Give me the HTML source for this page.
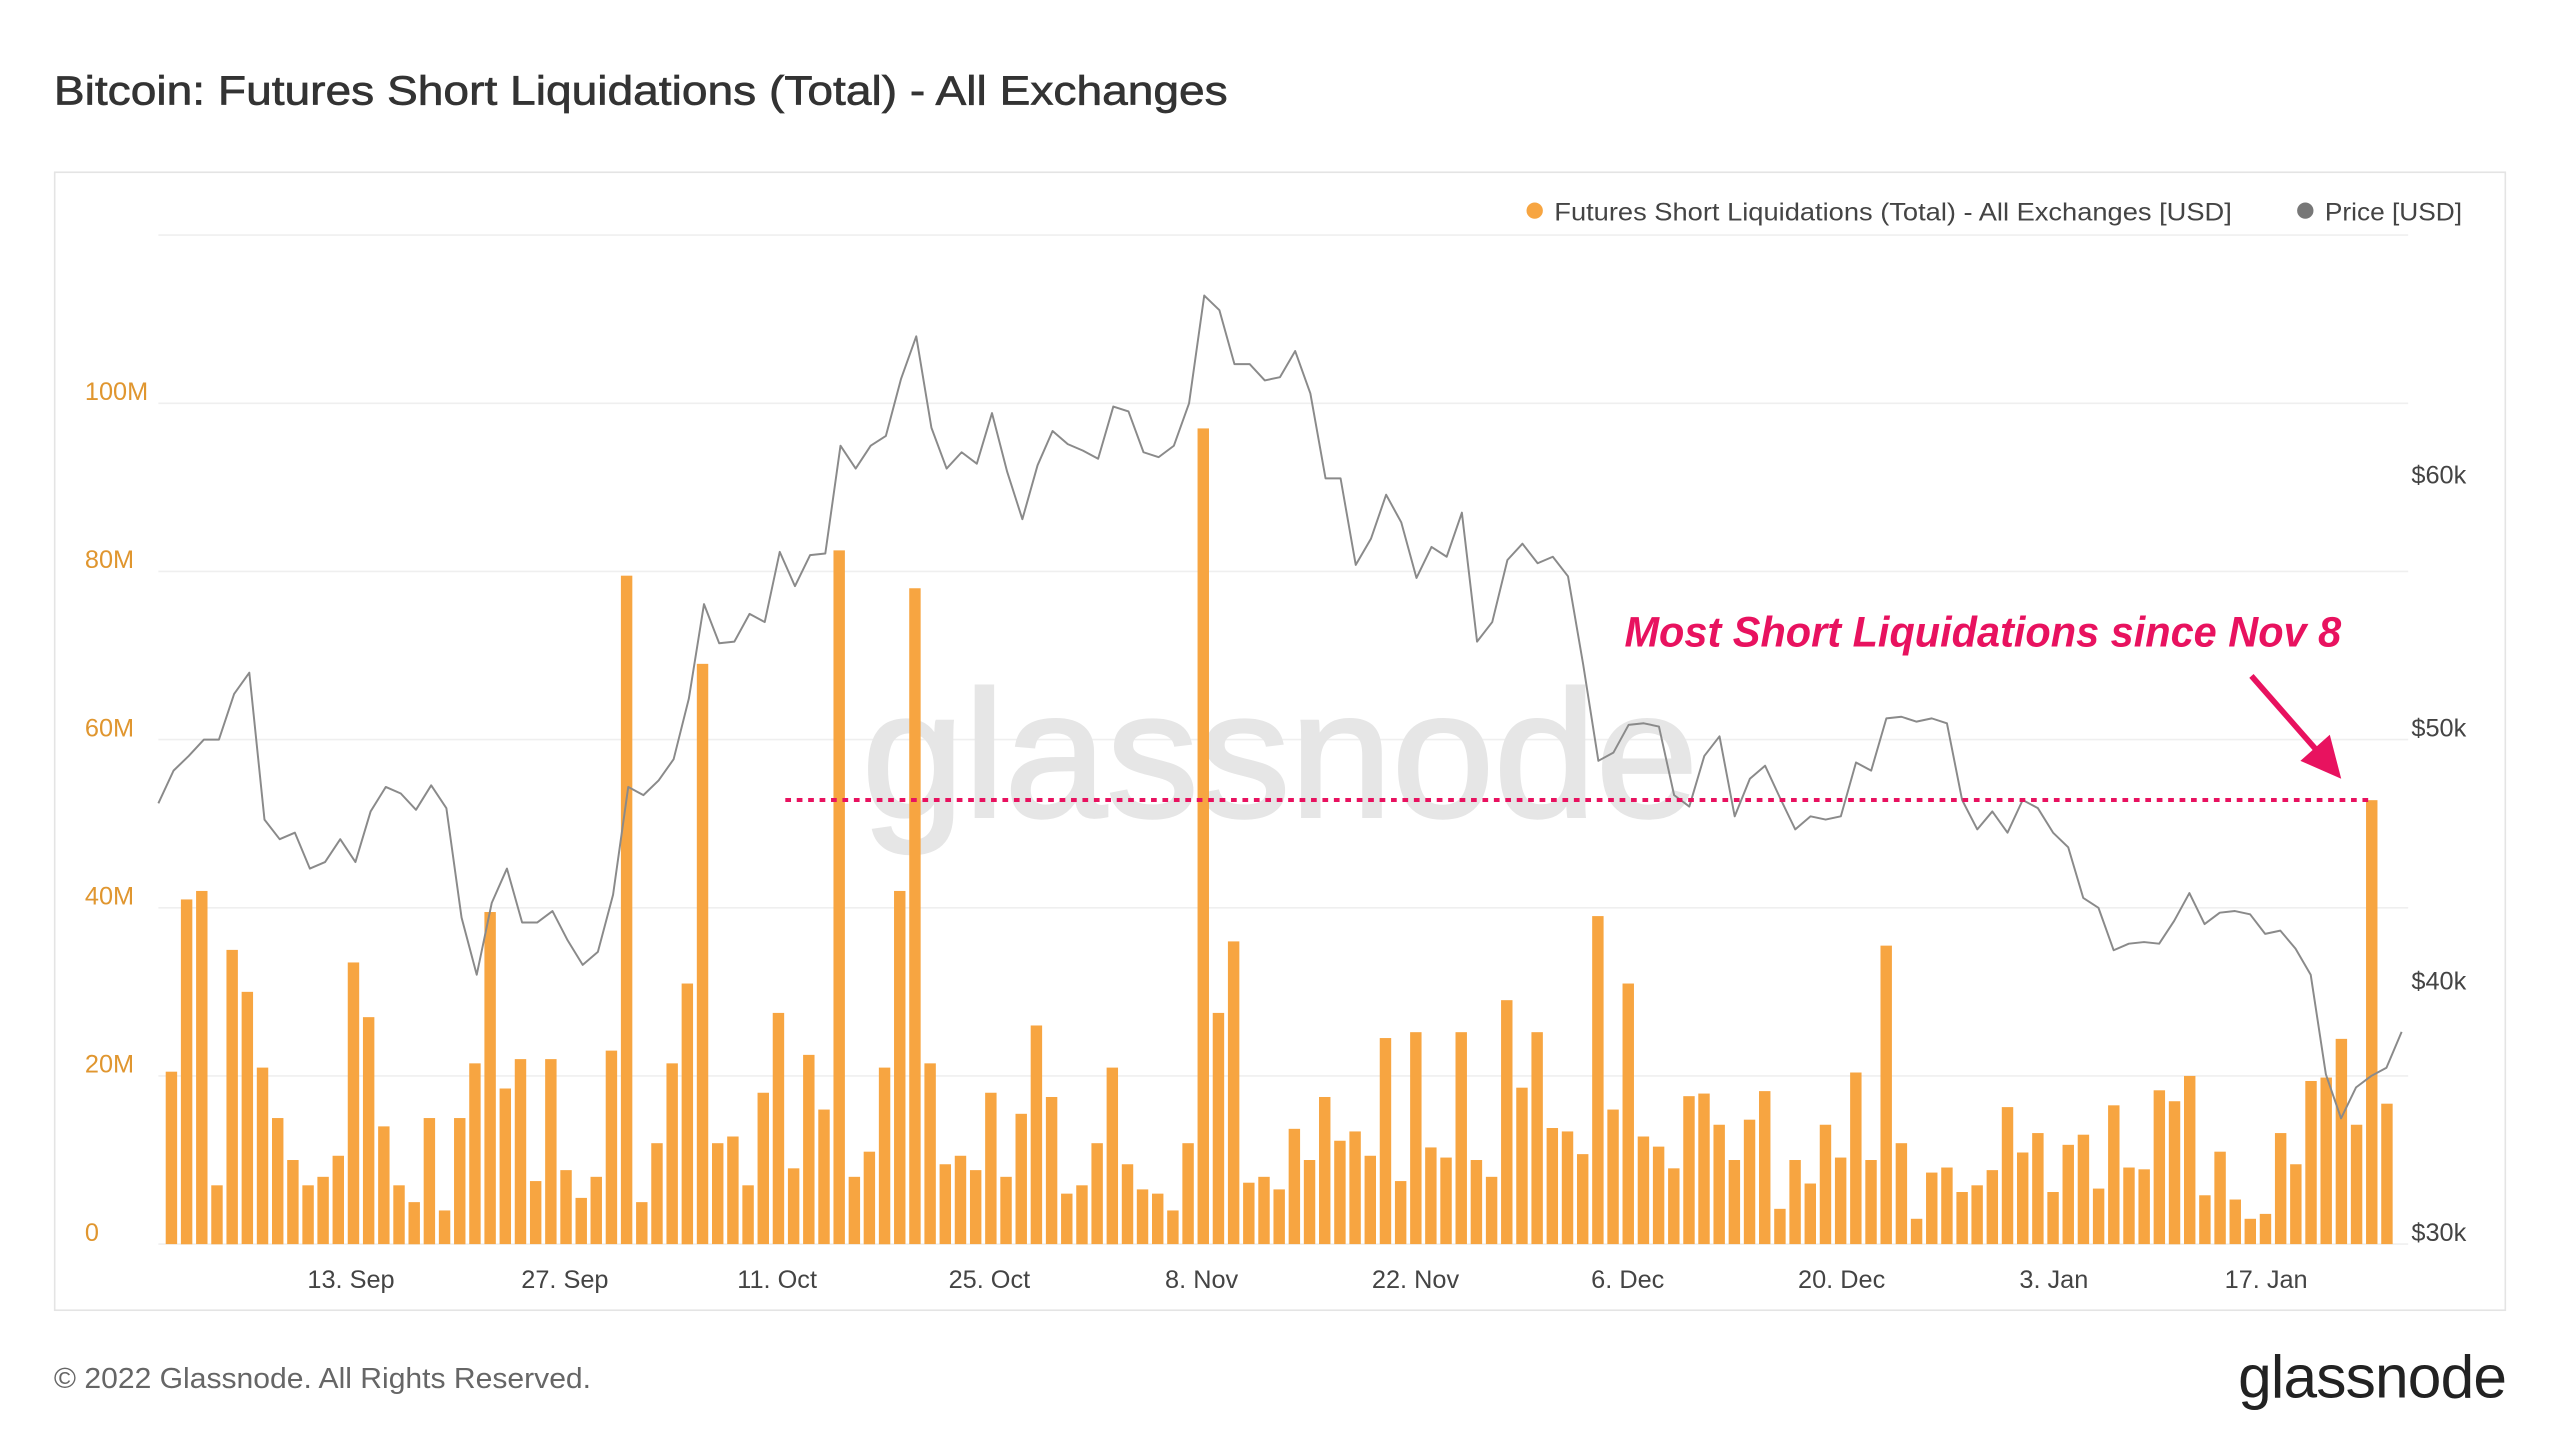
<!DOCTYPE html>
<html><head><meta charset="utf-8"><style>
html,body{margin:0;padding:0;background:#fff;}
svg{display:block;font-family:"Liberation Sans",sans-serif;}
</style></head><body>
<svg id="s" width="2560" height="1441" viewBox="0 0 1568 882.6" xmlns="http://www.w3.org/2000/svg">
<rect x="0" y="0" width="1568" height="883" fill="#fff"/>
<text x="33" y="64" font-size="25" fill="#333" stroke="#333" stroke-width="0.4" textLength="719" lengthAdjust="spacingAndGlyphs">Bitcoin: Futures Short Liquidations (Total) - All Exchanges</text>
<rect x="33.5" y="105.5" width="1501" height="697" fill="#fff" stroke="#e4e4e4" stroke-width="1"/>
<g stroke="#efefef" stroke-width="1">
<line x1="97" x2="1475" y1="144" y2="144"/><line x1="97" x2="1475" y1="247" y2="247"/>
<line x1="97" x2="1475" y1="350" y2="350"/><line x1="97" x2="1475" y1="453" y2="453"/>
<line x1="97" x2="1475" y1="556" y2="556"/><line x1="97" x2="1475" y1="659" y2="659"/>
<line x1="97" x2="1475" y1="762" y2="762"/>
</g>
<text x="528" y="500" font-size="110" fill="#e6e6e6" stroke="#e6e6e6" stroke-width="2" textLength="512" lengthAdjust="spacingAndGlyphs">glassnode</text>
<g font-size="15.5" fill="#e0962f">
<text x="52" y="245">100M</text><text x="52" y="348">80M</text><text x="52" y="451">60M</text>
<text x="52" y="554">40M</text><text x="52" y="657">20M</text><text x="52" y="760">0</text>
</g>
<g font-size="15.5" fill="#444">
<text x="1477" y="296">$60k</text><text x="1477" y="451">$50k</text>
<text x="1477" y="606">$40k</text><text x="1477" y="760">$30k</text>
</g>
<g font-size="15.5" fill="#444" text-anchor="middle">
<text x="215" y="789">13. Sep</text><text x="346" y="789">27. Sep</text><text x="476" y="789">11. Oct</text>
<text x="606" y="789">25. Oct</text><text x="736" y="789">8. Nov</text><text x="867" y="789">22. Nov</text>
<text x="997" y="789">6. Dec</text><text x="1128" y="789">20. Dec</text><text x="1258" y="789">3. Jan</text>
<text x="1388" y="789">17. Jan</text>
</g>
<circle cx="940" cy="129" r="5" fill="#f7a541"/>
<text x="952" y="135" font-size="15.5" fill="#444" textLength="415" lengthAdjust="spacingAndGlyphs">Futures Short Liquidations (Total) - All Exchanges [USD]</text>
<circle cx="1412" cy="129" r="5" fill="#777"/>
<text x="1424" y="135" font-size="15.5" fill="#444" textLength="84" lengthAdjust="spacingAndGlyphs">Price [USD]</text>
<g id="bars" fill="#f7a541"></g>
<path id="price" fill="none" stroke="#8a8a8a" stroke-width="1.2" stroke-linejoin="round"/>
<line x1="481" y1="490" x2="1453" y2="490" stroke="#e8125f" stroke-width="2.5" stroke-dasharray="3.5 3.5"/>
<text x="995" y="396" font-size="26" font-weight="bold" font-style="italic" fill="#e8125f" textLength="439" lengthAdjust="spacingAndGlyphs">Most Short Liquidations since Nov 8</text>
<line x1="1379" y1="414" x2="1422" y2="463" stroke="#e8125f" stroke-width="3.5"/>
<polygon points="1434,477 1409,466 1427,450" fill="#e8125f"/>
<text x="33" y="850" font-size="17.5" fill="#666" textLength="329" lengthAdjust="spacingAndGlyphs">© 2022 Glassnode. All Rights Reserved.</text>
<text x="1535" y="856" font-size="37" fill="#222" text-anchor="end" letter-spacing="-0.5">glassnode</text>
</svg>
<script>
var b=[20.5,41,42,7,35,30,21,15,10,7,8,10.5,33.5,27,14,7,5,15,4,15,21.5,39.5,18.5,22,7.5,22,8.8,5.5,8,23,79.5,5,12,21.5,31,69,12,12.8,7,18,27.5,9,22.5,16,82.5,8,11,21,42,78,21.5,9.5,10.5,8.8,18,8,15.5,26,17.5,6,7,12,21,9.5,6.5,6,4,12,97,27.5,36,7.3,8,6.5,13.7,10,17.5,12.3,13.4,10.5,24.5,7.5,25.2,11.5,10.3,25.2,10,8,29,18.6,25.2,13.8,13.4,10.7,39,16,31,12.8,11.6,9,17.6,17.9,14.2,10,14.8,18.2,4.2,10,7.2,14.2,10.3,20.4,10,35.5,12,3,8.5,9.1,6.2,7,8.8,16.3,10.9,13.2,6.2,11.8,13,6.6,16.5,9.1,8.9,18.3,17,20,5.8,11,5.3,3,3.6,13.2,9.5,19.4,19.8,24.4,14.2,52.8,16.7];
var g=document.getElementById('bars'),h='';
var n=b.length,x0=105,x1=1462,dx=(x1-x0)/(n-1);
for(var i=0;i<n;i++){var x=x0+i*dx,hh=b[i]*5.15;h+='<rect x="'+(x-3.5).toFixed(1)+'" y="'+(762-hh).toFixed(1)+'" width="7" height="'+hh.toFixed(1)+'"/>';}
g.innerHTML=h;
var p=[492,472,463,453,453,425,412,502,514,510,532,528,514,528,497,482,486,496,481,495,562,597,553,532,565,565,558,576,591,583,548,482,487,478,465,428,370,394,393,376,381,338,359,340,339,273,287,273,267,232,206,262,287,277,284,253,289,318,285,264,272,276,281,249,252,277,280,273,247,181,190,223,223,233,231,215,241,293,293,346,330,303,320,354,335,341,314,393,381,343,333,345,341,353,407,466,461,444,443,445,487,494,463,451,500,477,469,489,508,500,502,500,467,472,440,439,442,440,443,490,508,497,510,490,495,510,519,550,556,582,578,577,578,564,547,566,559,558,560,572,570,581,597,658,685,666,659,654,632];
var m=p.length,px0=97,px1=1471,pdx=(px1-px0)/(m-1),d='';
for(var j=0;j<m;j++){d+=(j?'L':'M')+(px0+j*pdx).toFixed(1)+' '+p[j];}
document.getElementById('price').setAttribute('d',d);
</script>
</body></html>
